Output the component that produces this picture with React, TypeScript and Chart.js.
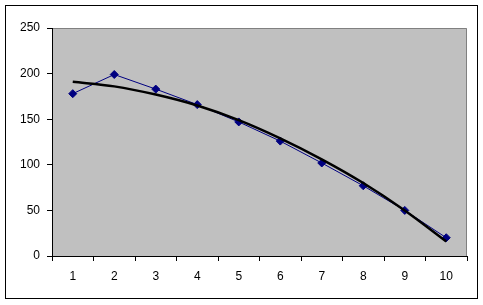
import React, { useEffect, useRef } from "react";
import { Chart, registerables } from "chart.js";

Chart.register(...registerables);

const categories = ["1", "2", "3", "4", "5", "6", "7", "8", "9", "10"];
const seriesValues = [178, 199, 183, 166, 147, 126, 102, 77, 50, 20];
const trendValues = [191, 186, 177, 165, 149, 129, 106, 80, 50, 16];
const yMin = 0;
const yMax = 250;
const yStep = 50;

const FONT = { family: "'Liberation Sans', Arial, sans-serif", size: 12 };

const framePlugin = {
  id: "frame",
  beforeDraw(chart: any) {
    const { ctx, chartArea: a, width, height } = chart;
    ctx.save();
    ctx.fillStyle = "#ffffff";
    ctx.fillRect(0, 0, width, height);
    ctx.strokeStyle = "#000000";
    ctx.lineWidth = 1;
    ctx.strokeRect(5.5, 5.5, 472, 293);
    ctx.fillStyle = "#c0c0c0";
    ctx.fillRect(a.left, a.top, a.right - a.left, a.bottom - a.top);
    ctx.strokeStyle = "#808080";
    ctx.beginPath();
    ctx.moveTo(a.left, a.top + 0.5);
    ctx.lineTo(a.right - 0.5, a.top + 0.5);
    ctx.lineTo(a.right - 0.5, a.bottom);
    ctx.stroke();
    ctx.restore();
  },
};

export default function App() {
  const ref = useRef<HTMLCanvasElement | null>(null);
  useEffect(() => {
    if (!ref.current) return;
    const chart = new Chart(ref.current, {
      type: "line",
      data: {
        labels: categories,
        datasets: [
          {
            label: "Trend",
            data: trendValues,
            borderColor: "#000000",
            borderWidth: 2.5,
            pointRadius: 0,
            cubicInterpolationMode: "monotone",
            fill: false,
            order: 0,
          },
          {
            label: "Series",
            data: seriesValues,
            borderColor: "#000080",
            backgroundColor: "#000080",
            borderWidth: 1,
            pointStyle: "rectRot",
            pointRadius: 4,
            pointBorderWidth: 1,
            pointBackgroundColor: "#000080",
            pointBorderColor: "#000080",
            tension: 0,
            fill: false,
            order: 1,
          },
        ],
      },
      options: {
        animation: false,
        responsive: false,
        maintainAspectRatio: false,
        devicePixelRatio: 1,
        layout: { padding: { left: 0, top: 28, right: 16, bottom: 0 } },
        plugins: {
          legend: { display: false },
          tooltip: { enabled: false },
        },
        scales: {
          x: {
            type: "category",
            offset: true,
            grid: {
              offset: true,
              drawOnChartArea: false,
              drawTicks: true,
              tickLength: 5,
              color: "#000000",
            },
            border: { color: "#000000", width: 1 },
            ticks: {
              color: "#000000",
              font: FONT,
              padding: 8,
              maxRotation: 0,
              autoSkip: false,
            },
            afterFit: (s: any) => {
              s.height = 49;
            },
          },
          y: {
            min: yMin,
            max: yMax,
            grid: {
              drawOnChartArea: false,
              drawTicks: true,
              tickLength: 5,
              color: "#000000",
            },
            border: { color: "#000000", width: 1 },
            ticks: {
              stepSize: yStep,
              color: "#000000",
              font: FONT,
              padding: 7,
            },
            afterFit: (s: any) => {
              s.width = 52;
            },
          },
        },
      } as any,
      plugins: [framePlugin],
    });
    return () => chart.destroy();
  }, []);
  return (
    <div style={{ position: "absolute", left: 0, top: 0, width: 483, height: 305 }}>
      <canvas ref={ref} width={483} height={305} style={{ display: "block" }} />
    </div>
  );
}
